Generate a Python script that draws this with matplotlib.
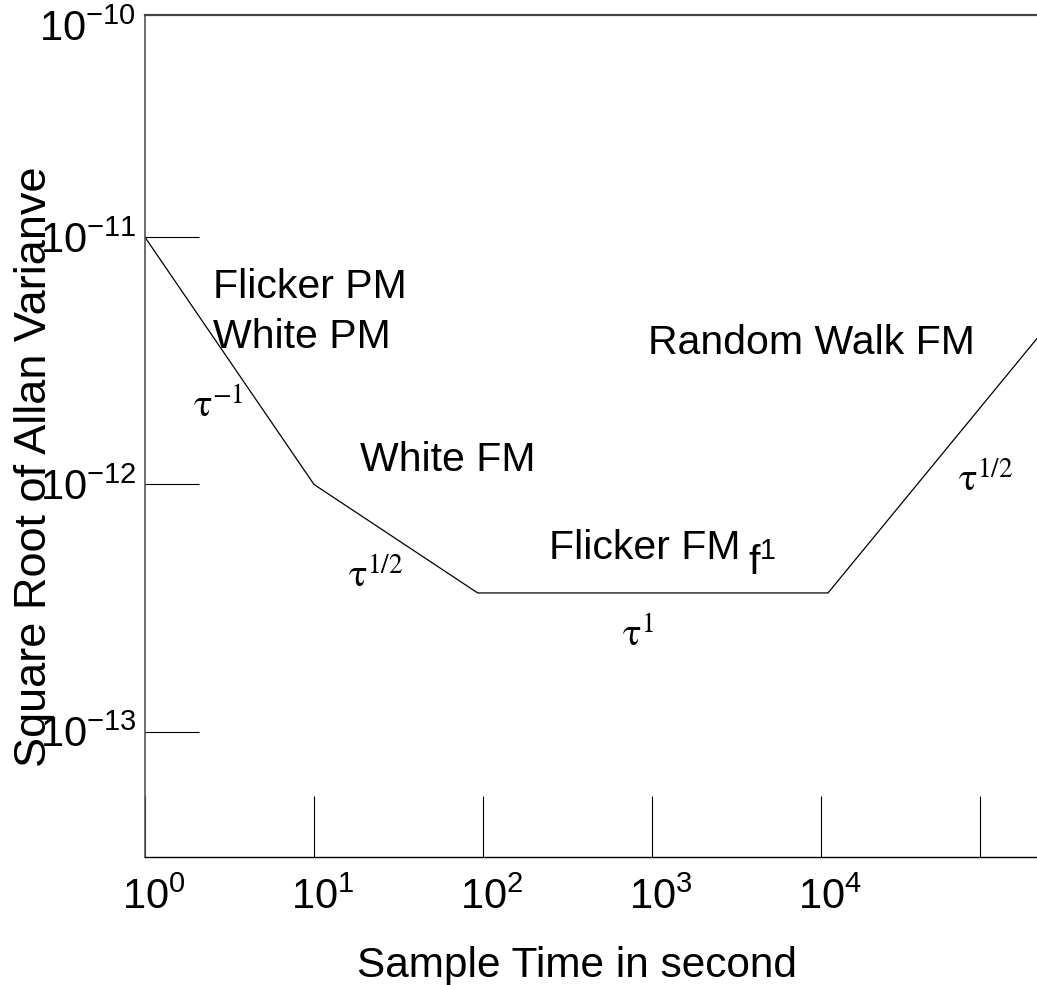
import matplotlib
matplotlib.use('Agg')
import matplotlib.pyplot as plt
from matplotlib.transforms import ScaledTranslation

plt.rcParams['font.family'] = ['Liberation Sans', 'DejaVu Sans']
plt.rcParams['mathtext.fontset'] = 'custom'
plt.rcParams['mathtext.rm'] = 'Liberation Sans'
plt.rcParams['mathtext.it'] = 'Liberation Sans:italic'
plt.rcParams['mathtext.bf'] = 'Liberation Sans:bold'
plt.rcParams['mathtext.sf'] = 'Liberation Sans'

# ---- data (schematic Allan deviation curve) ----
tau = [1, 10, 93, 1.1e4, 1.9e5]
sigma = [1e-11, 1e-12, 3.64e-13, 3.64e-13, 3.9e-12]

x_ticks = [1, 10, 100, 1000, 1e4, 8.7e4]
x_tick_labels = [r'$10^{0}$', r'$10^{1}$', r'$10^{2}$', r'$10^{3}$', r'$10^{4}$', '']
y_ticks = [1e-13, 1e-12, 1e-11]
y_tick_labels = [r'$10^{-13}$', r'$10^{-12}$', r'$10^{-11}$']
y_top_label = r'$10^{-10}$'

x_label = 'Sample Time in second'
y_label = 'Square Root of Allan Varianve'

fig = plt.figure(figsize=(10.37, 9.85), dpi=100)
ax = fig.add_axes([145/1037, 128/985, 892/1037, 842/985])

ax.plot(tau, sigma, color='black', linewidth=0.9)

ax.set_xscale('log')
ax.set_yscale('log')
ax.set_xlim(1, 10**5.278)
ax.set_ylim(10**-13.507, 10**-10.101)
ax.minorticks_off()

ax.set_xticks(x_ticks)
ax.set_xticklabels(x_tick_labels)
ax.set_yticks(y_ticks)
ax.set_yticklabels(y_tick_labels)
ax.tick_params(axis='x', direction='in', length=44, width=0.8, pad=15,
               labelsize=30, color='black')
ax.tick_params(axis='y', direction='in', length=39, width=0.8, pad=6,
               labelsize=30, color='black')
for lab in ax.get_xticklabels():
    lab.set_transform(lab.get_transform() + ScaledTranslation(6.5/72, 0, fig.dpi_scale_trans))

ax.spines['right'].set_visible(False)
ax.spines['left'].set_color('#555555')
ax.spines['left'].set_linewidth(1.2)
ax.spines['top'].set_color('#444444')
ax.spines['top'].set_linewidth(1.6)
ax.spines['bottom'].set_color('black')
ax.spines['bottom'].set_linewidth(1.0)

ax.text(-0.01, 0.982, y_top_label, transform=ax.transAxes, ha='right', va='center',
        fontsize=30)

ax.set_xlabel(x_label, fontsize=30.5)
ax.xaxis.set_label_coords(0.484, -0.1057)
ax.set_ylabel(y_label, fontsize=32.5)
ax.yaxis.set_label_coords(-0.101, 0.463)

fs = 29.5
ax.text(2.53, 5.68e-12, 'Flicker PM', fontsize=fs, va='baseline')
ax.text(2.53, 3.56e-12, 'White PM', fontsize=fs, va='baseline')
ax.text(18.7, 1.135e-12, 'White FM', fontsize=fs, va='baseline')
ax.text(246, 5.0e-13, 'Flicker FM', fontsize=fs, va='baseline')
ax.text(3700, 4.3e-13, r'$\mathrm{f}^{1}$', fontsize=fs, va='baseline')
ax.text(947, 3.37e-12, 'Random Walk FM', fontsize=fs, va='baseline')

tfs = 28
ax.text(1.92, 1.87e-12, r'$\mathrm{\tau}^{-1}$', math_fontfamily='stix', fontsize=tfs, va='baseline')
ax.text(15.9, 3.81e-13, r'$\mathrm{\tau}^{1/2}$', math_fontfamily='stix', fontsize=tfs, va='baseline')
ax.text(664, 2.2e-13, r'$\mathrm{\tau}^{1}$', math_fontfamily='stix', fontsize=tfs, va='baseline')
ax.text(64700, 9.33e-13, r'$\mathrm{\tau}^{1/2}$', math_fontfamily='stix', fontsize=tfs, va='baseline')

fig.savefig('out.png', dpi=100)
